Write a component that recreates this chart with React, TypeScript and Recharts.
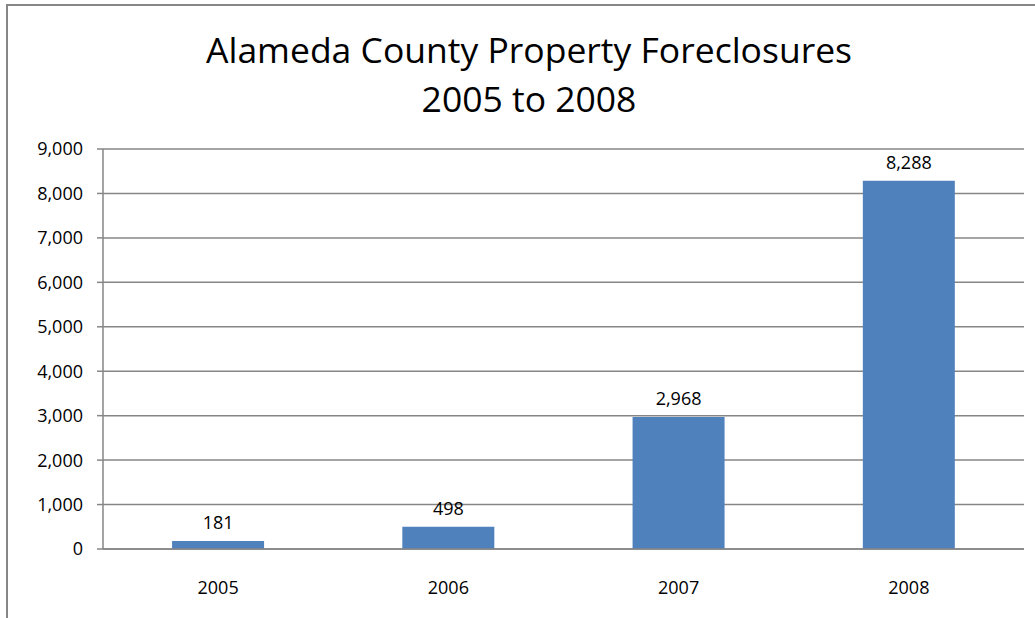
import { BarChart, Bar, XAxis, YAxis, CartesianGrid, LabelList } from 'recharts';

const years = ['2005', '2006', '2007', '2008'];
const foreclosures = [181, 498, 2968, 8288];
const yTicks = [0, 1000, 2000, 3000, 4000, 5000, 6000, 7000, 8000, 9000];
const edgeTicks = [0, 1, 2, 3, 4];

const titleLines = ['Alameda County Property Foreclosures', '2005 to 2008'];

const font = '"Open Sans", Calibri, sans-serif';
const gray = '#868686';
const barBlue = '#4F81BD';

const data = years.map((year, i) => ({ year, value: foreclosures[i] }));

const fmt = (v: number) => v.toLocaleString('en-US');

export default function App() {
  return (
    <div style={{ position: 'absolute', left: 0, top: 0, width: 1035, height: 618, overflow: 'hidden', background: '#fff' }}>
      {/* chart frame runs off the right and bottom of the picture */}
      <div style={{ position: 'absolute', left: 6, top: 4, width: 1100, height: 700, border: `2px solid ${gray}`, boxSizing: 'border-box' }} />
      <svg width={1035} height={130} style={{ position: 'absolute', left: 0, top: 0 }}>
        <text x={529} y={63} textAnchor="middle" fontFamily={font} fontSize={35.5} fill="#000">{titleLines[0]}</text>
        <text x={529} y={112} textAnchor="middle" fontFamily={font} fontSize={35.5} fill="#000">{titleLines[1]}</text>
      </svg>
      <div style={{ position: 'absolute', left: 0, top: 0 }}>
        <BarChart
          width={1035}
          height={618}
          data={data}
          margin={{ top: 149, right: 11, bottom: 67, left: 13 }}
          barCategoryGap="30%"
        >
          <CartesianGrid stroke={gray} strokeWidth={1.5} vertical={false} />
          <XAxis
            dataKey="year"
            axisLine={{ stroke: gray, strokeWidth: 1.5 }}
            tickLine={false}
            tick={{ fill: '#000', fontSize: 18, fontFamily: font }}
            tickMargin={26}
            height={1}
          />
          <XAxis
            xAxisId="edges"
            type="number"
            domain={[0, 4]}
            ticks={edgeTicks}
            axisLine={false}
            tick={false}
            tickLine={{ stroke: gray, strokeWidth: 1.5 }}
            tickSize={6}
            height={1}
          />
          <YAxis
            domain={[0, 9000]}
            ticks={yTicks}
            tickFormatter={fmt}
            axisLine={{ stroke: gray, strokeWidth: 1.5 }}
            tickLine={{ stroke: gray, strokeWidth: 1.5 }}
            tickSize={6}
            tick={{ fill: '#000', fontSize: 18, fontFamily: font }}
            tickMargin={14}
            width={90}
          />
          <Bar dataKey="value" fill={barBlue} isAnimationActive={false}>
            <LabelList dataKey="value" position="top" offset={12} formatter={(v: any) => fmt(Number(v))} style={{ fill: '#000', fontSize: 18, fontFamily: font }} />
          </Bar>
        </BarChart>
      </div>
    </div>
  );
}
